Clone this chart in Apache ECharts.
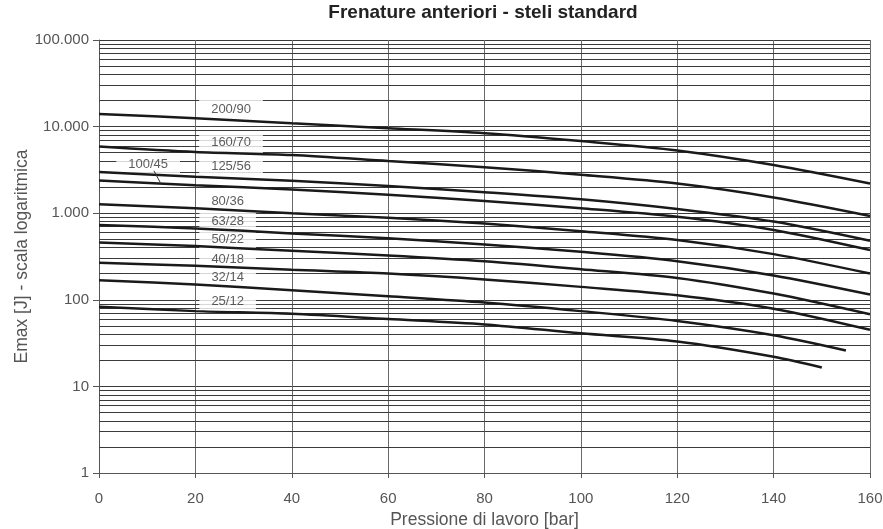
<!DOCTYPE html>
<html>
<head>
<meta charset="utf-8">
<script src="https://cdn.jsdelivr.net/npm/echarts@6/dist/echarts.min.js"></script>
<style>html,body{margin:0;padding:0;background:#fff}#c{width:883px;height:529px}</style>
</head>
<body>
<div id="c"></div>
<script>
// ---- data ----
const pressure = [0, 20, 40, 60, 80, 100, 120, 140, 160];
const pressure32 = [0, 20, 40, 60, 80, 100, 120, 140, 155];
const pressure25 = [0, 20, 40, 60, 80, 100, 120, 140, 150];

const e200_90 = [14000, 12500, 10900, 9600, 8400, 6800, 5300, 3600, 2200];
const e160_70 = [5900, 5100, 4700, 4000, 3400, 2780, 2200, 1520, 930];
const e125_56 = [3000, 2640, 2370, 2060, 1750, 1450, 1120, 800, 480];
const e100_45 = [2390, 2100, 1880, 1630, 1380, 1140, 910, 640, 375];
const e80_36  = [1270, 1140, 1000, 885, 760, 620, 490, 337, 201];
const e63_28  = [730, 667, 584, 515, 436, 358, 279, 191, 115];
const e50_22  = [460, 417, 368, 325, 279, 226, 179, 118, 68];
const e40_18  = [267, 247, 222, 201, 172, 141, 113, 79, 45];
const e32_14  = [168, 150, 129, 110, 93, 74, 57, 39, 26];
const e25_12  = [83, 74, 69, 60, 52, 41, 33, 22, 16.5];

const seriesNames = ['200/90','160/70','125/56','100/45','80/36','63/28','50/22','40/18','32/14','25/12'];
const labelX = [27.4, 27.4, 27.4, 10.2, 26.7, 26.7, 26.7, 26.7, 26.7, 26.7];
const labelY = [15850, 6510, 3440, 3670, 1354, 795, 498, 295, 181, 97];
const leaderX = [11.4, 12.7];
const leaderY = [3090, 2270];

const title = 'Frenature anteriori - steli standard';
const xName = 'Pressione di lavoro [bar]';
const yName = 'Emax [J] - scala logaritmica';

// ---- build ----
const curves = [
  [pressure, e200_90], [pressure, e160_70], [pressure, e125_56], [pressure, e100_45],
  [pressure, e80_36], [pressure, e63_28], [pressure, e50_22], [pressure, e40_18],
  [pressure32, e32_14], [pressure25, e25_12]
];
const minorVals = [];
for (let k = 0; k < 5; k++) for (let d = 2; d <= 9; d++) minorVals.push(d * Math.pow(10, k));

const FONT = '"Liberation Sans", Arial, sans-serif';
const fmtIt = v => String(Math.round(v)).replace(/\B(?=(\d{3})+(?!\d))/g, '.');

const series = [];
series.push({
  type: 'line', name: 'grid', data: [], zlevel: 0, z: 1, silent: true,
  markLine: {
    silent: true, symbol: ['none', 'none'], animation: false,
    label: { show: false },
    lineStyle: { color: '#3a3a3a', width: 1, type: 'solid' },
    emphasis: { disabled: true },
    data: minorVals.map(v => ({ yAxis: v }))
  }
});
series.push({
  type: 'scatter', name: 'labels', zlevel: 1, z: 2, silent: true, symbolSize: 0,
  data: seriesNames.map((n, i) => ({ name: n, value: [labelX[i], labelY[i]] })),
  label: {
    show: true, position: 'inside', formatter: p => p.name,
    fontFamily: FONT, fontSize: 13, color: '#333', lineHeight: 15,
    backgroundColor: '#fff', padding: [3, 12]
  }
});
curves.forEach((c, i) => {
  series.push({
    type: 'line', name: seriesNames[i], zlevel: 2, z: 3, smooth: 0.3, showSymbol: false, symbol: 'none',
    lineStyle: { color: '#1a1a1a', width: 2.5 },
    data: c[0].map((x, j) => [x, c[1][j]])
  });
});
series.push({
  type: 'line', name: 'leader', zlevel: 2, z: 3, showSymbol: false, symbol: 'none',
  lineStyle: { color: '#333', width: 1 },
  data: leaderX.map((x, j) => [x, leaderY[j]])
});

const chart = echarts.init(document.getElementById('c'));
chart.setOption({
  animation: false,
  backgroundColor: '#fff',
  grid: { left: 99, right: 13, top: 40, bottom: 56, containLabel: false, outerBoundsMode: 'none' },
  graphic: [{
    type: 'text', x: 483, y: 13,
    style: { text: title, font: 'bold 19px ' + FONT, fill: '#222', textAlign: 'center', textVerticalAlign: 'middle', verticalAlign: 'middle' }
  }],
  xAxis: {
    type: 'value', min: 0, max: 160, interval: 20,
    name: xName, nameLocation: 'middle', nameGap: 38, nameMoveOverlap: false,
    nameTextStyle: { fontFamily: FONT, fontSize: 17.5, color: '#555' },
    axisLine: { show: true, lineStyle: { color: '#555', width: 1 } },
    axisTick: { show: true, length: 5, lineStyle: { color: '#555' } },
    axisLabel: { fontFamily: FONT, fontSize: 15, color: '#555', margin: 18, formatter: v => String(v) },
    splitLine: { show: true, lineStyle: { color: '#6a6a6a', width: 1 } }
  },
  yAxis: {
    type: 'log', logBase: 10, min: 1, max: 100000,
    name: yName, nameLocation: 'middle', nameGap: 68, nameRotate: 90, nameMoveOverlap: false,
    nameTextStyle: { fontFamily: FONT, fontSize: 17.5, color: '#555' },
    axisLine: { show: true, lineStyle: { color: '#555', width: 1 } },
    axisTick: { show: true, length: 6, lineStyle: { color: '#555' } },
    axisLabel: { fontFamily: FONT, fontSize: 15, color: '#555', margin: 10, formatter: fmtIt },
    splitLine: { show: true, lineStyle: { color: '#3a3a3a', width: 1 } }
  },
  series: series
});
</script>
</body>
</html>
